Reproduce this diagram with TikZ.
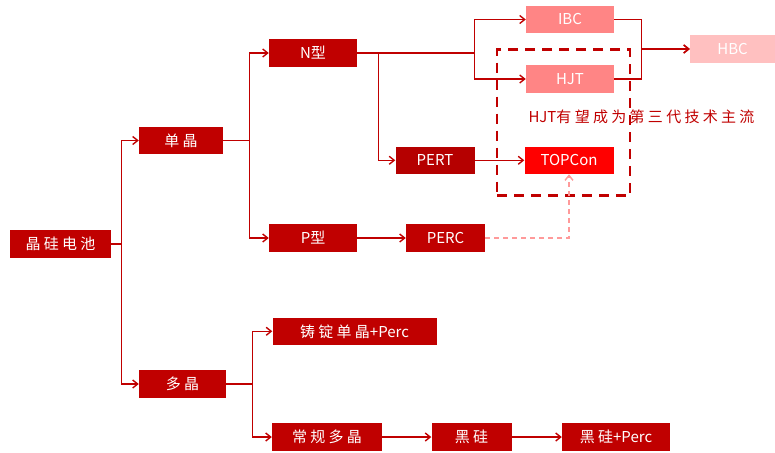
\documentclass[tikz,border=0pt]{standalone}
\usepackage{fontspec}
\setmainfont{Noto Sans CJK SC}
\newfontfamily\cjk[LetterSpace=22]{Noto Sans CJK SC}
\usetikzlibrary{arrows.meta}
\definecolor{boxred}{HTML}{C00000}
\definecolor{pertred}{HTML}{B50000}
\definecolor{topred}{HTML}{FF0000}
\definecolor{pinkone}{HTML}{FF8585}
\definecolor{pinktwo}{HTML}{FFC0C0}
\definecolor{dashpink}{HTML}{FF9A9A}
\definecolor{linec}{HTML}{C00000}
\newcommand{\lat}[1]{{\normalfont #1}}

\begin{document}
\begin{tikzpicture}[
  x=1pt, y=-1pt,
  box/.style={fill=boxred, text=white, inner sep=0pt, minimum height=27.5pt,
              font=\fontsize{15}{15}\selectfont},
  zh/.style={box, font=\cjk\fontsize{15}{15}\selectfont},
  link/.style={-{Straight Barb[length=5pt,width=8pt]}, line width=1.4pt, draw=linec},
  hint/.style={-{Straight Barb[length=5pt,width=8pt]}, dashed, dash pattern=on 5pt off 4pt,
               line width=1.4pt, draw=dashpink},
  hjtbox/.style={draw=boxred, line width=2.6pt, dash pattern=on 10pt off 7pt,
                 minimum width=133pt, minimum height=146pt, inner sep=0pt}]
\useasboundingbox (0,0) rectangle (775,452);
% tree
\node[zh, minimum width=101pt] (jg)  at (60.5,244)  {晶硅电池};
\node[zh, minimum width=84pt]  (dj)  at (181,140.5) {单晶};
\node[zh, minimum width=87pt]  (duo) at (182.5,384) {多晶};
\node[box, minimum width=88pt] (N)   at (313,53)    {N型};
\node[box, minimum width=88pt] (P)   at (313,238)   {P型};
\node[box, minimum width=88pt, fill=pinkone] (IBC) at (570,19.5) {IBC};
\node[box, minimum width=88pt, fill=pinkone] (HJT) at (570,79)   {HJT};
\node[box, minimum width=85pt, fill=pinktwo] (HBC) at (732.5,49) {HBC};
\node[box, minimum width=79pt, fill=pertred] (PERT) at (435,160.3) {PERT};
\node[box, minimum width=89pt, fill=topred]  (TOP)  at (569,160.3) {TOPCon};
\node[box, minimum width=79pt] (PERC) at (445.5,238) {PERC};
\node[zh, minimum width=164pt] (zhu) at (354.5,331.3) {铸锭单晶\lat{+Perc}};
\node[zh, minimum width=110pt] (cg)  at (327,437)   {常规多晶};
\node[zh, minimum width=80pt]  (hg)  at (471.5,437) {黑硅};
\node[zh, minimum width=108pt] (hgp) at (616,437)   {黑硅\lat{+Perc}};
% dashed frame and note
\node[hjtbox] (frame) at (563.5,122.7) {};
\node[font=\cjk\fontsize{15}{15}\selectfont, text=boxred, inner sep=0pt] (note) at (641.5,116.7) {\lat{HJT}有望成为第三代技术主流};
% connectors
\draw[link] (jg.east) -- ++(10,0) |- (dj.west);
\draw[link] (jg.east) -- ++(10,0) |- (duo.west);
\draw[link] (dj.east) -- ++(26,0) |- (N.west);
\draw[link] (dj.east) -- ++(26,0) |- (P.west);
\draw[link] (N.east) -- ++(117,0) |- (IBC.west);
\draw[link] (N.east) -- ++(117,0) |- (HJT.west);
\draw[link] (N.east) -- ++(21,0) |- (PERT.west);
\draw[link] (PERT) -- (TOP);
\draw[link] (P) -- (PERC);
\draw[hint] (PERC.east) -| (TOP.south);
\draw[link] (IBC.east) -- ++(27,0) |- (HBC.west);
\draw[link] (HJT.east) -- ++(27,0) |- (HBC.west);
\draw[link] (duo.east) -- ++(26,0) |- (zhu.west);
\draw[link] (duo.east) -- ++(26,0) |- (cg.west);
\draw[link] (cg) -- (hg);
\draw[link] (hg) -- (hgp);
\end{tikzpicture}
\end{document}
